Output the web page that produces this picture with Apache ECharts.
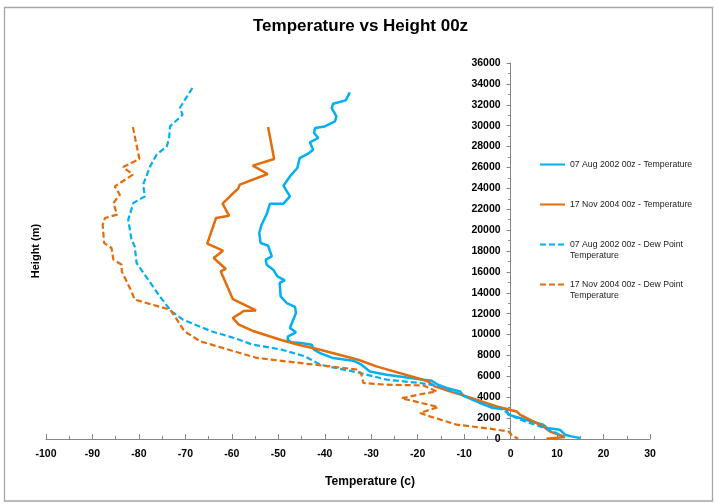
<!DOCTYPE html>
<html>
<head>
<meta charset="utf-8">
<script src="https://cdn.jsdelivr.net/npm/echarts@6/dist/echarts.min.js"></script>
<style>
html,body{margin:0;padding:0;background:#fff;}
#chart{width:714px;height:504px;}
</style>
</head>
<body>
<div id="chart"></div>
<script>
// [temperature (c), height (m)]
const aug02Temperature = [
  [-34.6,33190],[-35.5,32420],[-38.2,32100],[-38.5,31690],[-37.5,30890],[-37.8,30410],
  [-40.0,29930],[-42.1,29770],[-42.3,29300],[-41.4,28820],[-43.2,28400],[-42.5,27700],
  [-43.6,27320],[-45.4,26900],[-45.9,25950],[-47.5,25140],[-48.9,24250],[-47.5,23230],
  [-48.9,22530],[-51.8,22530],[-52.4,21640],[-53.6,20520],[-54.1,19720],[-53.8,18770],
  [-52.2,18510],[-51.4,17480],[-52.7,17170],[-52.5,16690],[-51.1,16210],[-50.2,15570],
  [-48.6,15190],[-49.7,14940],[-49.5,13650],[-48.2,13020],[-46.4,12640],[-46.2,12060],
  [-47.5,10630],[-46.2,10210],[-47.9,9820],[-48.0,9510],[-47.2,9260],[-45.1,9190],
  [-42.8,9030],[-42.3,8550],[-41.0,8230],[-38.2,7750],[-33.9,7500],[-32.1,7110],
  [-30.3,6470],[-26.7,6160],[-18.8,5680],[-17.0,5580],[-15.9,5260],[-13.8,4880],
  [-10.9,4560],[-10.2,4150],[-6.6,3450],[-3.8,2970],[-0.9,2870],[-0.5,2330],
  [2.0,2010],[7.0,1370],[7.8,1050],[10.6,890],[11.7,410],[13.1,250],[14.9,100]
];
const nov04Temperature = [
  [-52.2,29870],[-50.9,26810],[-55.5,26170],[-52.3,25370],[-58.3,24350],[-58.6,24000],
  [-60.4,23240],[-62.0,22530],[-60.6,21380],[-63.4,21160],[-65.3,18700],[-61.9,18030],
  [-63.9,17330],[-61.3,16280],[-62.4,16050],[-59.8,13400],[-54.8,12310],[-57.5,12250],
  [-58.3,12000],[-59.8,11590],[-58.5,10950],[-55.6,10370],[-49.2,9450],[-45.7,9030],
  [-41.0,8550],[-32.8,7590],[-28.9,6950],[-18.1,5580],[-16.3,5040],[-13.1,4560],
  [-9.5,4080],[-3.0,3120],[1.3,2640],[2.0,2330],[7.0,1210],[8.4,730],[11.7,190],[7.7,30]
];
const aug02DewPoint = [
  [-68.5,33610],[-71.2,31690],[-70.6,31050],[-73.3,29930],[-73.5,28820],[-74.0,28020],
  [-76.2,27220],[-77.6,26100],[-79.1,24350],[-78.7,23230],[-81.2,22600],[-82.3,21000],
  [-81.6,19080],[-80.9,18440],[-80.5,16850],[-78.0,15250],[-75.5,13650],[-73.0,12220],
  [-70.5,11420],[-64.4,10310],[-59.5,9670],[-55.5,9030],[-49.2,8550],[-44.3,7920],
  [-42.3,7440],[-41.0,7110],[-32.4,6320],[-28.1,5840],[-26.7,5680],[-19.5,5360],
  [-15.2,5040],[-10.6,4240],[-7.3,3600],[-4.5,3120],[-1.6,2810],[-0.2,2330],
  [2.0,1850],[6.3,1210],[9.9,570],[11.2,150]
];
const nov04DewPoint = [
  [-81.3,29870],[-79.9,26810],[-83.4,26040],[-81.3,25310],[-85.2,24190],[-84.1,23390],
  [-85.5,22600],[-84.7,21480],[-87.3,21160],[-87.8,20520],[-87.5,18770],[-85.9,18290],
  [-85.5,17170],[-83.7,16690],[-83.7,16050],[-81.6,14130],[-80.9,13340],[-73.3,12380],
  [-71.9,11490],[-70.2,10310],[-66.8,9350],[-59.5,8390],[-54.6,7760],[-43.8,7200],
  [-32.8,6640],[-32.1,6160],[-31.7,5360],[-26.7,5200],[-18.8,5130],[-15.9,4560],
  [-19.9,4240],[-23.5,3900],[-20.6,3600],[-15.6,3060],[-19.5,2490],[-17.4,2170],
  [-11.6,1370],[-4.5,990],[-0.5,730],[0.2,410],[1.6,0]
];
const seriesNames = [
  '07 Aug 2002 00z - Temperature',
  '17 Nov 2004 00z - Temperature',
  '07 Aug 2002 00z - Dew Point Temperature',
  '17 Nov 2004 00z - Dew Point Temperature'
];
const titleText = 'Temperature vs Height 00z';
const xAxisName = 'Temperature (c)';
const yAxisName = 'Height (m)';

const BLUE = '#00B0F0', ORANGE = '#E46C0A';
const FONT = "'Liberation Sans', Arial, sans-serif";

const X_MIN = -100, X_MAX = 30;
const GRID_LEFT = 46, GRID_RIGHT = 64;
// place the height axis where temperature = 0 (labels move with it)
const plotW = 714 - GRID_LEFT - GRID_RIGHT;
const yAxisShift = (0 - X_MIN) / (X_MAX - X_MIN) * plotW;

const chart = echarts.init(document.getElementById('chart'), null, {renderer: 'canvas'});
function mk(name, data, color, dashed) {
  return {
    name: name, type: 'line', data: data, symbol: 'none', showSymbol: false,
    color: color,
    itemStyle: {color: color},
    lineStyle: {color: color, width: dashed ? 2.2 : 2.5, type: dashed ? [6, 3] : 'solid'},
    emphasis: {disabled: true}
  };
}
chart.setOption({
  animation: false,
  backgroundColor: '#fff',
  title: {
    text: titleText, left: 253, top: 18, padding: 0,
    textStyle: {fontFamily: FONT, fontWeight: 'bold', fontSize: 17, color: '#000'}
  },
  graphic: [{
    type: 'rect', silent: true, z: -1,
    shape: {x: 4.5, y: 7.5, width: 708, height: 493.5},
    style: {fill: 'none', stroke: '#a6a6a6', lineWidth: 1.3}
  }],
  legend: {
    orient: 'vertical', left: 539, top: 148, padding: 0, itemGap: 7,
    itemWidth: 25, itemHeight: 10,
    itemStyle: {opacity: 0},
    data: seriesNames,
    formatter: function (n) {
      // first text line sits level with the key line, wrapped text hangs below
      return n.indexOf('Dew Point') >= 0
        ? ' \n' + n.replace(' Temperature', '\nTemperature')
        : ' \n' + n + '\n ';
    },
    textStyle: {fontFamily: FONT, fontSize: 8.7, color: '#1a1a1a', lineHeight: 11}
  },
  grid: {left: GRID_LEFT, right: GRID_RIGHT, top: 63, bottom: 65, containLabel: false},
  xAxis: {
    type: 'value', min: X_MIN, max: X_MAX, interval: 10,
    name: xAxisName, nameLocation: 'middle', nameGap: 37,
    nameTextStyle: {fontFamily: FONT, fontWeight: 'bold', fontSize: 12, color: '#000', padding: [0, 0, 0, 44]},
    axisLine: {show: true, onZero: false, lineStyle: {color: '#868686', width: 1}},
    axisTick: {show: true, inside: true, length: 5, lineStyle: {color: '#868686'}},
    minorTick: {show: true, splitNumber: 2, length: 3, lineStyle: {color: '#868686'}},
    splitLine: {show: false},
    axisLabel: {margin: 10, fontFamily: FONT, fontWeight: 'bold', fontSize: 10.5, color: '#000'}
  },
  yAxis: [{
    type: 'value', min: 0, max: 36000, interval: 2000, position: 'left',
    offset: -yAxisShift,
    axisLine: {show: true, onZero: false, lineStyle: {color: '#868686', width: 1}},
    axisTick: {show: true, inside: false, length: 4, lineStyle: {color: '#868686'}},
    minorTick: {show: true, splitNumber: 2, length: 2.5, lineStyle: {color: '#868686'}},
    splitLine: {show: false},
    axisLabel: {margin: 10, fontFamily: FONT, fontWeight: 'bold', fontSize: 10.5, color: '#000',
      formatter: function (v) { return String(v); }}
  }, {
    type: 'value', min: 0, max: 36000, interval: 2000, position: 'left',
    name: yAxisName, nameLocation: 'middle', nameGap: 5,
    nameTextStyle: {fontFamily: FONT, fontWeight: 'bold', fontSize: 11, color: '#000'},
    axisLine: {show: false, onZero: false}, axisTick: {show: false},
    axisLabel: {show: false}, splitLine: {show: false}
  }],
  series: [
    mk(seriesNames[0], aug02Temperature, BLUE, false),
    mk(seriesNames[1], nov04Temperature, ORANGE, false),
    mk(seriesNames[2], aug02DewPoint, BLUE, true),
    mk(seriesNames[3], nov04DewPoint, ORANGE, true)
  ]
});
</script>
</body>
</html>
